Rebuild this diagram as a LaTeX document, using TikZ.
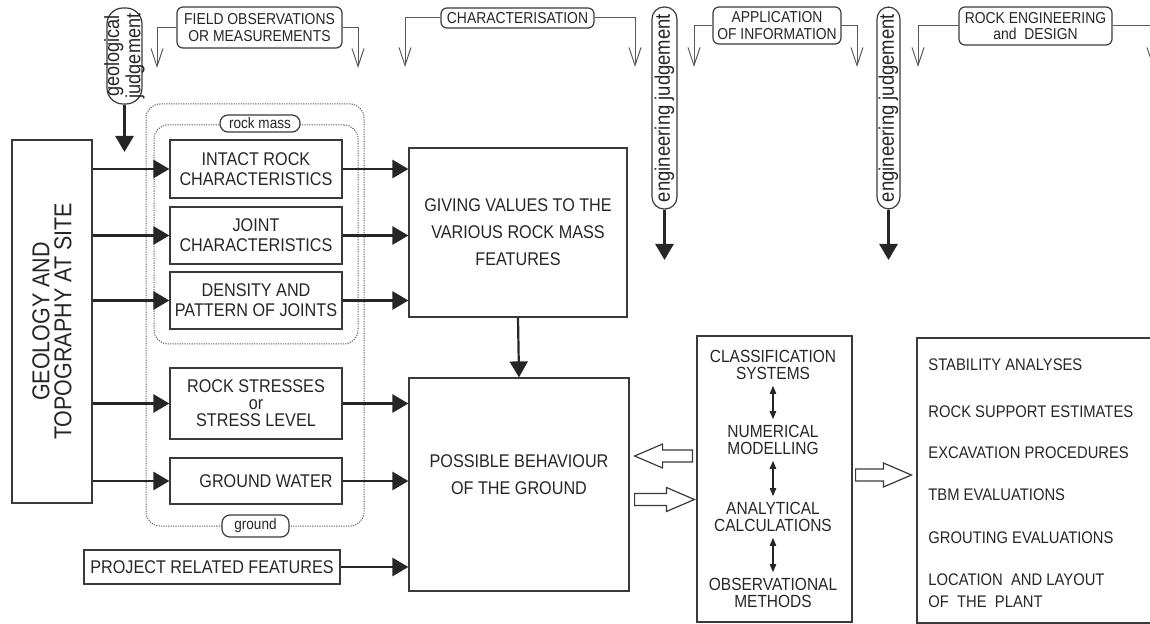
\documentclass[tikz,border=0pt]{standalone}
\usepackage{fontspec}
\setmainfont{Liberation Sans}[FakeStretch=0.88]
\usetikzlibrary{arrows.meta,calc}
\definecolor{ink}{HTML}{262626}
\definecolor{boxc}{HTML}{3A3A3A}
\definecolor{thinc}{HTML}{5A5A5A}
\definecolor{dotc}{HTML}{5E5E5E}
\newcommand\hollowarrow[3]{%
  \draw[harrow] let \p1=#1, \p2=#2 in
    (\x1,{\y1+3pt}) -- ({\x2+(#3)},{\y1+3pt}) -- ({\x2+(#3)},{\y1+6pt}) --
    (\x2,\y1) -- ({\x2+(#3)},{\y1-6pt}) -- ({\x2+(#3)},{\y1-3pt}) --
    (\x1,{\y1-3pt}) -- cycle;}
\begin{document}
\begin{tikzpicture}[x=0.5pt,y=-0.5pt,
  bx/.style args={#1/#2/#3/#4}{at={({(#1+#3)/2},{(#2+#4)/2})},
    minimum width={(#3-#1)*0.5pt}, minimum height={(#4-#2)*0.5pt}},
  box/.style={draw=boxc, line width=0.6pt, inner sep=0pt, align=center, text=ink,
    font=\fontsize{9.2}{10}\selectfont},
  hdrbox/.style={draw=boxc, line width=0.6pt, rounded corners=3pt, inner sep=0pt,
    align=center, text=ink, font=\fontsize{7.9}{8.4}\selectfont},
  pill/.style={draw=boxc, line width=0.6pt, rounded corners=6pt, inner sep=0pt},
  grp/.style={draw=dotc, line width=0.5pt, dash pattern=on 0.6pt off 0.6pt,
    rounded corners=7pt, inner sep=0pt},
  tag/.style={draw=boxc, fill=white, line width=0.6pt, rounded corners=4pt,
    inner sep=0pt, text=ink, font=\fontsize{7.7}{8}\selectfont},
  bigarrow/.style={draw=ink, line width=1.4pt, -{Triangle[length=8pt,width=9pt]}},
  hdrline/.style={draw=thinc, line width=0.5pt, -{Straight Barb[length=9pt,width=6pt]}},
  dbl/.style={draw=ink, line width=0.6pt,
    {Triangle[length=4pt,width=3.2pt]}-{Triangle[length=4pt,width=3.2pt]},
    shorten <=3pt, shorten >=3pt},
  harrow/.style={draw=boxc, line width=0.6pt, fill=white},
  clsitem/.style={inner sep=0pt, align=center, text=ink, font=\fontsize{8.8}{8.2}\selectfont},
  item/.style={anchor=west, inner sep=0pt, align=left, text=ink, font=\fontsize{8.4}{11}\selectfont}
]
\useasboundingbox (0,0) rectangle (1150,624);
\clip (0,0) rectangle (1150,624);

% ---- groups
\node[grp, bx=146/104/364/526] (ground) {};
\node[grp, bx=154/125/358/344] (rockmass) {};
\node[tag, bx=220/115/300/132] (rmtag) {rock mass};
\node[tag, bx=222/515/289/537] (grtag) {ground};

% ---- left column
\node[box, bx=12/140/92/503,
  label={[rotate=90, align=center, text=ink, font=\fontsize{12.2}{11}\selectfont]center:{GEOLOGY AND\\TOPOGRAPHY AT SITE}}] (geo) {};
\node[box, bx=170/140/342/198] (intact) {INTACT ROCK\\CHARACTERISTICS};
\node[box, bx=170/207/342/264] (joint) {JOINT\\CHARACTERISTICS};
\node[box, bx=170/272/342/329] (density) {DENSITY AND\\PATTERN OF JOINTS};
\node[box, bx=170/368/342/439, font=\fontsize{9.2}{8.5}\selectfont] (stress) {ROCK STRESSES\\or\\STRESS LEVEL};
\node[box, bx=170/458/342/504] (water) {\hspace{10pt}GROUND WATER};
\node[box, bx=84/550/340/584] (project) {PROJECT RELATED FEATURES};

% ---- middle
\node[box, bx=409/148/627/317, font=\fontsize{9.2}{13.5}\selectfont] (giving) {GIVING VALUES TO THE\\VARIOUS ROCK MASS\\FEATURES};
\node[box, bx=409/378/629/591,
  label={[yshift=5pt, align=center, text=ink, font=\fontsize{9.2}{13.5}\selectfont]center:{POSSIBLE BEHAVIOUR\\OF THE GROUND}}] (possible) {};

% ---- methods
\node[box, bx=697/336/852/622] (methods) {};
\node[clsitem] (c1) at (773,365) {CLASSIFICATION\\SYSTEMS};
\node[clsitem] (c2) at (773,440) {NUMERICAL\\MODELLING};
\node[clsitem] (c3) at (773,517) {ANALYTICAL\\CALCULATIONS};
\node[clsitem] (c4) at (773,593) {OBSERVATIONAL\\METHODS};
\draw[dbl] (c1.south) -- (c2.north);
\draw[dbl] (c2.south) -- (c3.north);
\draw[dbl] (c3.south) -- (c4.north);

% ---- results
\node[box, bx=917/338/1160/623] (results) {};
\node[item] (st) at (928,365) {STABILITY ANALYSES};
\node[item] (rs) at (928,412) {ROCK SUPPORT ESTIMATES};
\node[item] (ex) at (928,453) {EXCAVATION PROCEDURES};
\node[item] (tbm) at (928,495) {TBM EVALUATIONS};
\node[item] (gr) at (928,538) {GROUTING EVALUATIONS};
\node[item] (loc) at (928,591) {LOCATION\ \ AND LAYOUT\\OF\ \ THE\ \ PLANT};

% ---- header
\node[hdrbox, bx=177/7/342/48] (field) {FIELD OBSERVATIONS\\OR MEASUREMENTS};
\node[hdrbox, bx=441/8/594/28] (charact) {CHARACTERISATION};
\node[hdrbox, bx=713/7/841/44] (appl) {APPLICATION\\OF INFORMATION};
\node[hdrbox, bx=959/7/1112/45] (rockeng) {ROCK ENGINEERING\\and\ \ DESIGN};
\node[pill, rounded corners=8pt, bx=107/8/142/104,
  label={[rotate=90, align=center, text=ink, font=\fontsize{10.3}{9}\selectfont]center:{geological\\judgement}}] (gj) {};
\node[pill, bx=652/7/677/209,
  label={[rotate=90, text=ink, font=\fontsize{10.5}{10}\selectfont]center:{engineering judgement}}] (e1) {};
\node[pill, bx=877/7/900/209,
  label={[rotate=90, text=ink, font=\fontsize{10.5}{10}\selectfont]center:{engineering judgement}}] (e2) {};

\coordinate (fL) at (157,68);  \coordinate (fR) at (358,68);
\coordinate (cL) at (405,67);  \coordinate (cR) at (635,67);
\coordinate (aL) at (694,67);  \coordinate (aR) at (857,67);
\coordinate (rL) at (918,67);  \coordinate (rR) at (1153,67);
\coordinate (gjend) at (124.5,152);
\coordinate (e1end) at (664.5,260);
\coordinate (e2end) at (888.5,260);

\draw[hdrline] (field.west) -| (fL);
\draw[hdrline] (field.east) -| (fR);
\draw[hdrline] (charact.west) -| (cL);
\draw[hdrline] (charact.east) -| (cR);
\draw[hdrline] (appl.west) -| (aL);
\draw[hdrline] (appl.east) -| (aR);
\draw[hdrline] (rockeng.west) -| (rL);
\draw[hdrline] (rockeng.east) -| (rR);

\draw[bigarrow] (gj.south) -- (gjend);
\draw[bigarrow] (e1.south) -- (e1end);
\draw[bigarrow] (e2.south) -- (e2end);

% ---- main arrows
\foreach \n in {intact,joint,density,stress,water}
  \draw[bigarrow] (geo.east |- \n.west) -- (\n.west);
\foreach \n in {intact,joint,density}
  \draw[bigarrow] (\n.east) -- (giving.west |- \n.east);
\foreach \n in {stress,water,project}
  \draw[bigarrow] (\n.east) -- (possible.west |- \n.east);
\draw[bigarrow, line width=1.1pt] (giving.south) -- (possible.north);

% ---- hollow arrows
\hollowarrow{($(methods.west)+(-4,-23)$)}{($(possible.east)+(5,-23)$)}{14pt}
\hollowarrow{($(possible.east)+(5,15)$)}{($(methods.west)+(-2,15)$)}{-14pt}
\hollowarrow{($(methods.east)+(3,-4)$)}{($(results.west)+(-5,-4)$)}{-14pt}
\end{tikzpicture}
\end{document}
